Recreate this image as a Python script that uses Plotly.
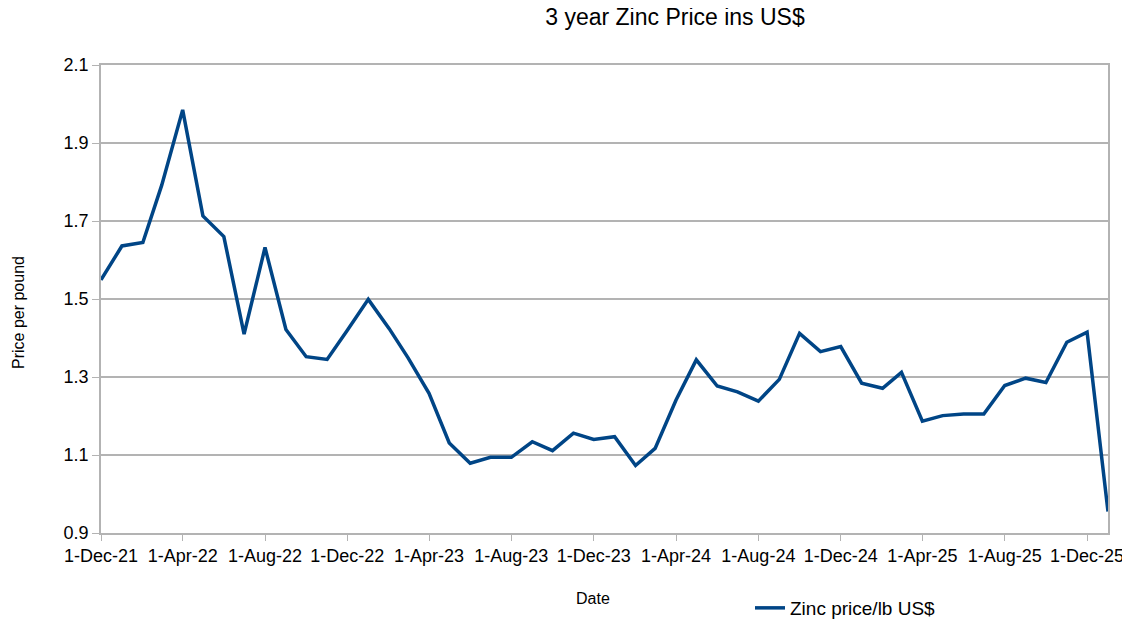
import plotly.graph_objects as go

dates = [
    "2021-12-01",
    "2022-01-01", "2022-02-01", "2022-03-01", "2022-04-01", "2022-05-01", "2022-06-01",
    "2022-07-01", "2022-08-01", "2022-09-01", "2022-10-01", "2022-11-01", "2022-12-01",
    "2023-01-01", "2023-02-01", "2023-03-01", "2023-04-01", "2023-05-01", "2023-06-01",
    "2023-07-01", "2023-08-01", "2023-09-01", "2023-10-01", "2023-11-01", "2023-12-01",
    "2024-01-01", "2024-02-01", "2024-03-01", "2024-04-01", "2024-05-01", "2024-06-01",
    "2024-07-01", "2024-08-01", "2024-09-01", "2024-10-01", "2024-11-01", "2024-12-01",
    "2025-01-01", "2025-02-01", "2025-03-01", "2025-04-01", "2025-05-01", "2025-06-01",
    "2025-07-01", "2025-08-01", "2025-09-01", "2025-10-01", "2025-11-01", "2025-12-01",
    "2026-01-01",
]
zinc_price = [
    1.549,
    1.636, 1.645, 1.792, 1.985, 1.713, 1.660,
    1.410, 1.632, 1.422, 1.352, 1.345, 1.420,
    1.499, 1.424, 1.349, 1.258, 1.131, 1.079,
    1.094, 1.094, 1.134, 1.111, 1.156, 1.140,
    1.147, 1.073, 1.117, 1.241, 1.344, 1.277,
    1.262, 1.238, 1.294, 1.412, 1.365, 1.378,
    1.284, 1.271, 1.312, 1.187, 1.201, 1.205,
    1.205, 1.278, 1.297, 1.286, 1.389, 1.415,
    0.955,
]
tick_dates = [
    "2021-12-01", "2022-04-01", "2022-08-01", "2022-12-01", "2023-04-01",
    "2023-08-01", "2023-12-01", "2024-04-01", "2024-08-01", "2024-12-01",
    "2025-04-01", "2025-08-01", "2025-12-01",
]
tick_labels = [
    "1-Dec-21", "1-Apr-22", "1-Aug-22", "1-Dec-22", "1-Apr-23",
    "1-Aug-23", "1-Dec-23", "1-Apr-24", "1-Aug-24", "1-Dec-24",
    "1-Apr-25", "1-Aug-25", "1-Dec-25",
]
y_ticks = [0.9, 1.1, 1.3, 1.5, 1.7, 1.9, 2.1]

FONT = "Liberation Sans, Arial, sans-serif"
GRID = "#b3b3b3"
OFF = 8  # page body margin

FIG_W = 1130 - OFF
FIG_H = 626 - OFF

fig = go.Figure()
fig.add_trace(go.Scatter(
    x=dates, y=zinc_price, mode="lines", name="Zinc price/lb US$",
    line=dict(color="#004586", width=3.5),
))

fig.update_layout(
    width=FIG_W, height=FIG_H,
    margin=dict(l=101 - OFF, r=22, t=65 - OFF, b=FIG_H - (65 - OFF) - 468,
                autoexpand=False),
    paper_bgcolor="white", plot_bgcolor="white",
    font=dict(family=FONT, color="#000000", size=18),
    title=dict(text="3 year Zinc Price ins US$", x=(675 - 101) / 1007, xref="paper",
               xanchor="center", y=1, yref="container", yanchor="top",
               pad=dict(t=1, b=0, l=0, r=0),
               font=dict(family=FONT, size=23, color="#000000")),
    showlegend=True,
    legend=dict(orientation="h", x=(750 - 101) / 1007, xanchor="left",
                y=1 - (608 - 65) / 468, yanchor="middle",
                font=dict(family=FONT, size=19, color="#000000"),
                bgcolor="rgba(0,0,0,0)"),
)

fig.update_xaxes(
    type="date", range=["2021-12-01", "2026-01-01"], automargin=False,
    tickmode="array", tickvals=tick_dates, ticktext=tick_labels,
    ticklabeloverflow="allow",
    ticks="outside", ticklen=6, tickcolor=GRID, tickwidth=1,
    showline=True, linecolor=GRID, linewidth=1.5, mirror=True,
    showgrid=False, zeroline=False,
    tickfont=dict(family=FONT, size=18, color="#000000"),
)
fig.update_yaxes(
    range=[0.9, 2.1], tickmode="array", tickvals=y_ticks, automargin=False,
    ticktext=[f"{v:.1f}" for v in y_ticks],
    ticks="outside", ticklen=7, tickcolor=GRID, tickwidth=1,
    showline=True, linecolor=GRID, linewidth=1.5, mirror=True,
    showgrid=True, gridcolor=GRID, gridwidth=1.5, zeroline=False,
    tickfont=dict(family=FONT, size=18, color="#000000"),
)

fig.add_annotation(text="Date", xref="paper", yref="paper",
                   x=(593 - 101) / 1007, y=1 - (598 - 65) / 468,
                   xanchor="center", yanchor="middle", showarrow=False,
                   font=dict(family=FONT, size=16, color="#000000"))
fig.add_annotation(text="Price per pound", xref="paper", yref="paper",
                   x=(18 - 101) / 1007, y=1 - (313 - 65) / 468,
                   xanchor="center", yanchor="middle", showarrow=False, textangle=-90,
                   font=dict(family=FONT, size=16, color="#000000"))

fig.write_html("out.html")
